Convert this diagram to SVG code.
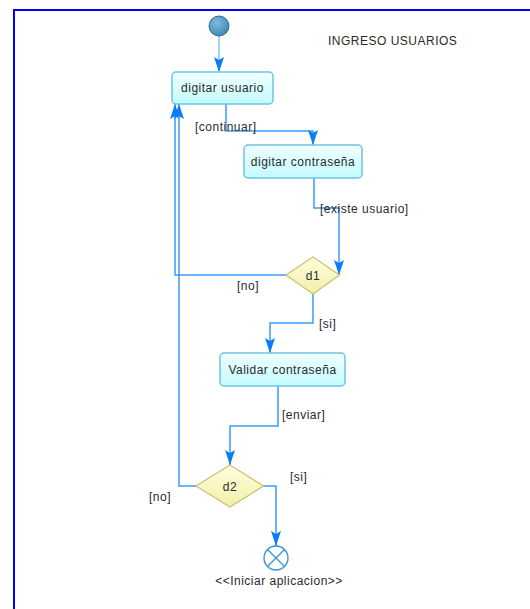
<svg xmlns="http://www.w3.org/2000/svg" width="530" height="609" viewBox="0 0 530 609">
<defs>
<linearGradient id="gBox" x1="0" y1="0" x2="0" y2="1"><stop offset="0" stop-color="#f2ffff"/><stop offset="1" stop-color="#c2fbff"/></linearGradient>
<linearGradient id="gDia" x1="0" y1="0" x2="0" y2="1"><stop offset="0" stop-color="#ffffe0"/><stop offset="1" stop-color="#f2eea8"/></linearGradient>
<radialGradient id="gStart" cx="0.4" cy="0.35" r="0.7"><stop offset="0" stop-color="#7fbcdc"/><stop offset="1" stop-color="#3a86b4"/></radialGradient>
<marker id="arr" markerUnits="userSpaceOnUse" markerWidth="18" markerHeight="12" viewBox="0 -6 18 12" refX="15" refY="0" orient="auto">
<path d="M0,-5 L15,0 L0,5 L3,0 z" fill="#0a7cf5"/>
</marker>
<style>
.box{fill:url(#gBox);stroke:#6ec3e4;stroke-width:1.5}
.dia{fill:url(#gDia);stroke:#c9c174;stroke-width:1.2}
.t{font-family:"Liberation Sans",Arial,sans-serif;font-size:12px;fill:#2a2a2a;letter-spacing:0.5px}
.c{text-anchor:middle}
.ln{fill:none;stroke:#3d9bf5;stroke-width:1.5;marker-end:url(#arr)}
</style>
</defs>
<rect width="530" height="609" fill="#fff"/>
<path d="M14,609 V10 H530" fill="none" stroke="#0000ff" stroke-width="2"/>
<text class="t" x="328" y="45">INGRESO USUARIOS</text>
<g id="connectors">
<path class="ln" d="M219,36 V72" style="stroke:#8ac4ff"/>
<path class="ln" d="M226,104 V131 H313 V145"/>
<path class="ln" d="M314,178 V208 H339 V275"/>
<path class="ln" d="M286,275 H175 V104"/>
<path class="ln" d="M313,294 V323 H270 V353"/>
<path class="ln" d="M278,386 V426 H230 V465"/>
<path class="ln" d="M196,486 H179 V104"/>
<path class="ln" d="M263,486 H276 V546"/>
<text class="t" x="195" y="131">[continuar]</text>
<text class="t" x="320" y="213">[existe usuario]</text>
<text class="t" x="237" y="290">[no]</text>
<text class="t" x="319" y="328">[si]</text>
<text class="t" x="282" y="419">[enviar]</text>
<text class="t" x="149" y="501">[no]</text>
<text class="t" x="290" y="481">[si]</text>
</g>
<g id="start"><circle cx="219" cy="26" r="10" fill="url(#gStart)" stroke="#2f6f9c" stroke-width="1"/></g>
<g id="digitar_usuario"><rect class="box" x="172" y="72" width="101" height="32" rx="4"/><text class="t c" x="222.5" y="92">digitar usuario</text></g>
<g id="digitar_contrasena"><rect class="box" x="244" y="145" width="118" height="33" rx="4"/><text class="t c" x="303" y="166">digitar contraseña</text></g>
<g id="d1"><polygon class="dia" points="313,257 339.5,275 313,294 286,275"/><text class="t c" x="313" y="279.5">d1</text></g>
<g id="validar"><rect class="box" x="220" y="353" width="125" height="33" rx="4"/><text class="t c" x="282.5" y="374">Validar contraseña</text></g>
<g id="d2"><polygon class="dia" points="230,465 263.5,486 230,507 196,486"/><text class="t c" x="230" y="490.5">d2</text></g>
<g id="end"><circle cx="276" cy="558" r="12" fill="#fff" stroke="#2d94d2" stroke-width="1.3"/><path d="M267.5,549.5 L284.5,566.5 M284.5,549.5 L267.5,566.5" stroke="#2d94d2" stroke-width="1.2"/><text class="t c" x="279" y="585">&lt;&lt;Iniciar aplicacion&gt;&gt;</text></g>
</svg>
